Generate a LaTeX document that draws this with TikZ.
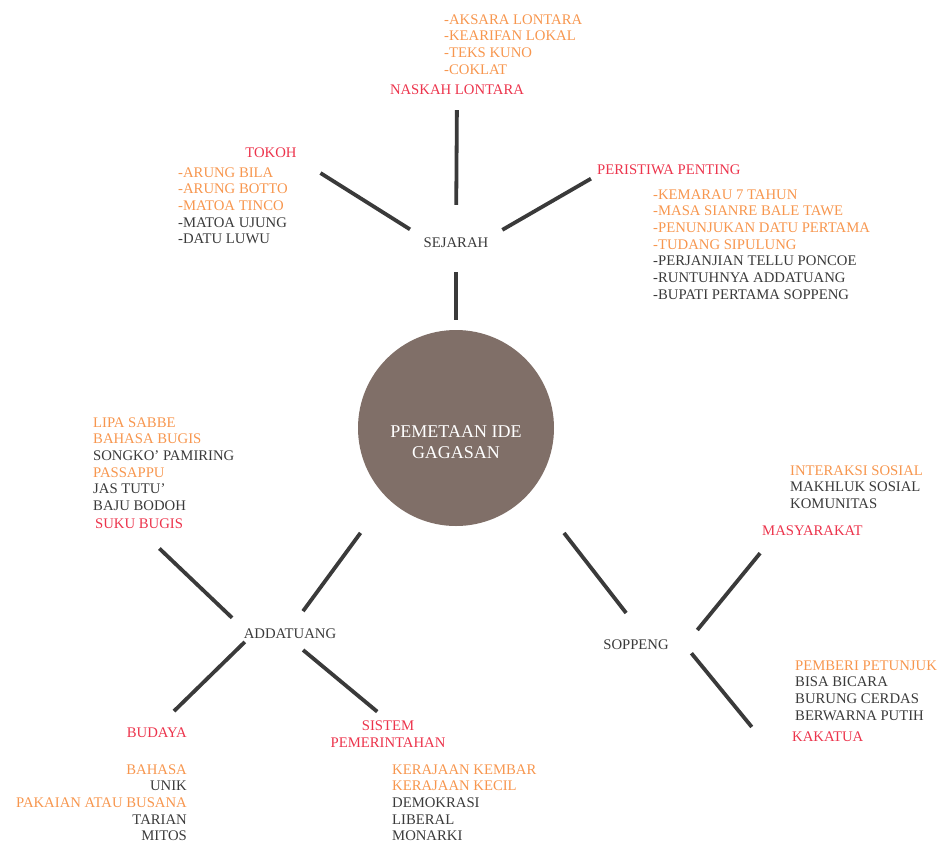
\documentclass[tikz,border=0pt]{standalone}
\usepackage{fontspec}
\setmainfont{Liberation Serif}
\definecolor{merah}{RGB}{236,52,76}
\definecolor{jingga}{RGB}{247,150,78}
\definecolor{abu}{RGB}{58,58,58}
\definecolor{coklat}{RGB}{128,111,104}
\newcommand{\ab}[1]{\textcolor{abu}{#1}}

\begin{document}
\begin{tikzpicture}[x=1pt, y=-1pt,
  every node/.style={font=\fontsize{14.7}{16.7}\selectfont, inner sep=0pt, text=abu},
  judul/.style={text=merah},
  daftar/.style={text=jingga, align=left, below right},
  garis/.style={draw=abu, line width=3.8pt}]
\useasboundingbox (0,0) rectangle (943,844);

\node[circle, fill=coklat, minimum size=196pt] (ide) at (456,428) {};
\node[text=white, font=\fontsize{18}{21}\selectfont, align=center] (idetext) at (456,442) {PEMETAAN IDE\\GAGASAN};

\node (sejarah) at (456,243) {SEJARAH};
\node (addatuang) at (290,634) {ADDATUANG};
\node (soppeng) at (636,645) {SOPPENG};

\node[judul] (naskah) at (457,90) {NASKAH LONTARA};
\node[daftar] (naskahlist) at (444,14.2) {-AKSARA LONTARA\\-KEARIFAN LOKAL\\-TEKS KUNO\\-COKLAT};

\node[judul] (tokoh) at (271,153) {TOKOH};
\node[daftar] (tokohlist) at (178,167.2) {-ARUNG BILA\\-ARUNG BOTTO\\-MATOA TINCO\\\ab{-MATOA UJUNG}\\\ab{-DATU LUWU}};

\node[judul, right] (peristiwa) at (597,170) {PERISTIWA PENTING};
\node[daftar] (peristiwalist) at (653,189.2) {-KEMARAU 7 TAHUN\\-MASA SIANRE BALE TAWE\\-PENUNJUKAN DATU PERTAMA\\-TUDANG SIPULUNG\\\ab{-PERJANJIAN TELLU PONCOE}\\\ab{-RUNTUHNYA ADDATUANG}\\\ab{-BUPATI PERTAMA SOPPENG}};

\node[judul, right] (suku) at (95,524) {SUKU BUGIS};
\node[daftar] (sukulist) at (93,417.2) {LIPA SABBE\\BAHASA BUGIS\\\ab{SONGKO’ PAMIRING}\\PASSAPPU\\\ab{JAS TUTU’}\\\ab{BAJU BODOH}};

\node[judul, left] (budaya) at (187,733) {BUDAYA};
\node[text=jingga, align=right, below left] (budayalist) at (187,764.2) {BAHASA\\\ab{UNIK}\\PAKAIAN ATAU BUSANA\\\ab{TARIAN}\\\ab{MITOS}};

\node[judul, align=center] (sistem) at (388,734) {SISTEM\\PEMERINTAHAN};
\node[daftar] (sistemlist) at (392,764.2) {KERAJAAN KEMBAR\\KERAJAAN KECIL\\\ab{DEMOKRASI}\\\ab{LIBERAL}\\\ab{MONARKI}};

\node[judul, right] (masyarakat) at (762,531) {MASYARAKAT};
\node[daftar] (masyarakatlist) at (790,465.2) {INTERAKSI SOSIAL\\\ab{MAKHLUK SOSIAL}\\\ab{KOMUNITAS}};

\node[judul, right] (kakatua) at (792,737) {KAKATUA};
\node[daftar] (kakatualist) at (795,660.2) {PEMBERI PETUNJUK\\\ab{BISA BICARA}\\\ab{BURUNG CERDAS}\\\ab{BERWARNA PUTIH}};

\draw[garis, shorten <=10pt, shorten >=24pt] (ide.north) -- (sejarah.south);
\draw[garis, shorten <=33pt, shorten >=15pt] (sejarah.north) -- (naskah.south);
\draw[garis, shorten <=16pt, shorten >=28pt] (sejarah.north west) -- (tokoh.south east);
\draw[garis, shorten <=16pt, shorten >=7pt] (sejarah.north east) -- (peristiwa.south west);

\draw[garis, shorten <=44pt, shorten >=22pt] (ide.225) -- (addatuang.north);
\draw[garis, shorten <=16pt, shorten >=28pt] (addatuang.north west) -- (suku.south);
\draw[garis, shorten <=4pt, shorten >=24pt] ([xshift=4pt]addatuang.south west) -- (budaya.north);
\draw[garis, shorten <=17pt, shorten >=14pt] (addatuang.south) -- (sistem.north);

\draw[garis, shorten <=45pt, shorten >=34pt] ([xshift=11pt]ide.315) -- ([xshift=11pt]soppeng.north);
\draw[garis, shorten <=26pt, shorten >=22pt] ([xshift=12pt]soppeng.south east) -- ([xshift=12pt]masyarakat.south west);
\draw[garis, shorten <=4pt, shorten >=13pt] ([xshift=20pt]soppeng.south east) -- ([xshift=-32pt]kakatua.west);

\end{tikzpicture}
\end{document}
